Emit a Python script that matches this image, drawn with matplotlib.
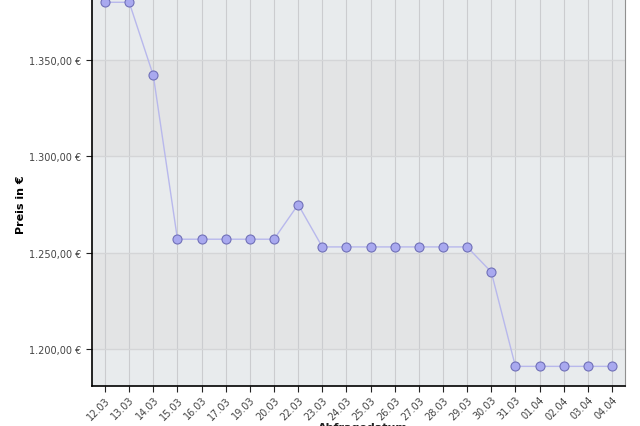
import matplotlib.pyplot as plt
from matplotlib.ticker import FuncFormatter

# Price history (Euro) per query date
dates = ["12.03", "13.03", "14.03", "15.03", "16.03", "17.03", "19.03", "20.03",
         "22.03", "23.03", "24.03", "25.03", "26.03", "27.03", "28.03", "29.03",
         "30.03", "31.03", "01.04", "02.04", "03.04", "04.04"]
prices = [1380, 1380, 1342, 1257, 1257, 1257, 1257, 1257,
          1275, 1253, 1253, 1253, 1253, 1253, 1253, 1253,
          1240, 1191, 1191, 1191, 1191, 1191]
y_ticks = [1200, 1250, 1300, 1350]


def euro(v, pos=None):
    s = f"{v:,.2f}".replace(",", "X").replace(".", ",").replace("X", ".")
    return s + " €"


fig = plt.figure(figsize=(6.4, 4.27), dpi=100)
ax = fig.add_axes([92 / 640, 40 / 427, 533 / 640, 387 / 427])

ymin, ymax = 1180.8, 1381.7
ax.set_ylim(ymin, ymax)
ax.set_xlim(-0.54, len(dates) - 1 + 0.54)

# alternating background bands
ax.set_facecolor("#e8ebed")
edges = [ymin] + y_ticks + [ymax]
for i in range(len(edges) - 1):
    if i % 2 == 1:
        ax.axhspan(edges[i], edges[i + 1], color="#e3e4e5", zorder=0, lw=0)

x = list(range(len(dates)))
for xi in x:
    ax.axvline(xi, color="#cbcccf", lw=0.8, zorder=1)
for yv in y_ticks:
    ax.axhline(yv, color="#d4d5d7", lw=1.0, zorder=1)

ax.plot(x, prices, color="#b8b8ec", lw=1.0, zorder=2)
ax.plot(x, prices, ls="none", marker="o", ms=6.5, mfc="#a9a9ef",
        mec="#7070b8", mew=0.8, zorder=3)

ax.set_yticks(y_ticks)
ax.yaxis.set_major_formatter(FuncFormatter(euro))
ax.set_xticks(x)
ax.set_xticklabels(dates, rotation=45, ha="right", rotation_mode="anchor")
ax.tick_params(axis="both", labelsize=7, labelcolor="#444444", length=4,
               width=0.8, color="#222222")
ax.tick_params(axis="x", pad=2)

ax.spines["top"].set_visible(False)
ax.spines["right"].set_color("#909090")
ax.spines["left"].set_linewidth(1.2)
ax.spines["bottom"].set_linewidth(1.2)

ax.set_ylabel("Preis in €", fontsize=8, fontweight="bold")
ax.yaxis.set_label_coords(-0.124, 0.47)
fig.text(318 / 640, 1 - 423 / 427, "Abfragedatum", fontsize=8,
         fontweight="bold", ha="left", va="top", color="#222222")

fig.savefig("out.png", dpi=100)
